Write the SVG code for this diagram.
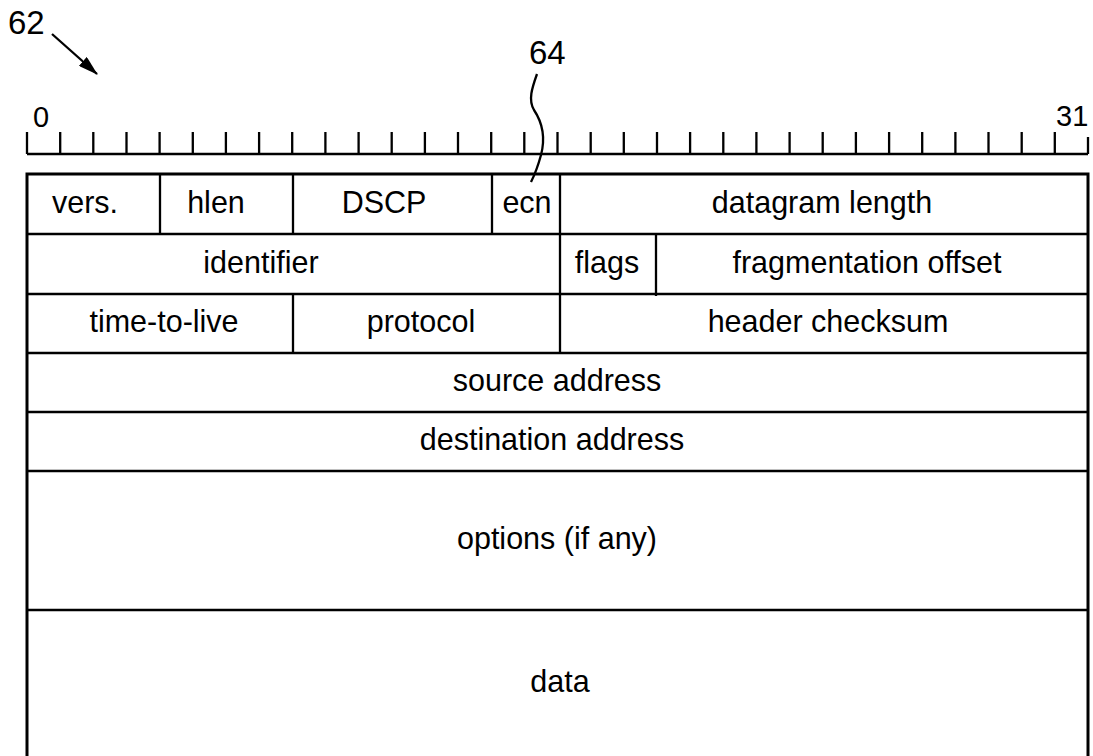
<svg xmlns="http://www.w3.org/2000/svg" width="1093" height="756" viewBox="0 0 1093 756">
  <style>
    .t { font-family: "Liberation Sans", Arial, sans-serif; font-size: 30.5px; fill: #000; text-anchor: middle; }
    .ref { font-family: "Liberation Sans", Arial, sans-serif; font-size: 33px; fill: #000; }
    .num { font-family: "Liberation Sans", Arial, sans-serif; font-size: 29px; fill: #000; }
    .ln { stroke: #000; stroke-width: 2.3; fill: none; }
    .box { stroke: #000; stroke-width: 3; fill: none; }
  </style>
  <defs>
    <marker id="head" viewBox="0 0 20 12" refX="19" refY="6" markerWidth="20" markerHeight="12" orient="auto" markerUnits="userSpaceOnUse">
      <path d="M0,0 L20,6 L0,12 z" fill="#000"/>
    </marker>
  </defs>
  <rect width="1093" height="756" fill="#fff"/>

  <!-- reference numerals -->
  <g id="label-62">
    <text class="ref" x="8" y="34">62</text>
  </g>
  <g id="label-64">
    <text class="ref" x="529" y="64">64</text>
  </g>

  <!-- bit ruler 0..31 -->
  <g id="ruler">
    <line class="ln" x1="27" y1="154" x2="1088" y2="154"/>
    <path class="ln" d="M27,132V154 M60.2,132V154 M93.3,132V154 M126.5,132V154 M159.6,132V154 M192.8,132V154 M225.9,132V154 M259.1,132V154 M292.2,132V154 M325.4,132V154 M358.6,132V154 M391.7,132V154 M424.9,132V154 M458,132V154 M491.2,132V154 M524.3,132V154 M557.5,132V154 M590.7,132V154 M623.8,132V154 M657,132V154 M690.1,132V154 M723.3,132V154 M756.4,132V154 M789.6,132V154 M822.7,132V154 M855.9,132V154 M889.1,132V154 M922.2,132V154 M955.4,132V154 M988.5,132V154 M1021.7,132V154 M1054.8,132V154 M1088,137V154"/>
    <text class="num" x="33" y="127">0</text>
    <text class="num" x="1056" y="126">31</text>
  </g>

  <!-- header table -->
  <g id="table">
    <rect class="box" x="27" y="174" width="1061" height="590"/>
    <path class="ln" d="M27,234H1088 M27,294H1088 M27,353H1088 M27,412H1088 M27,471H1088 M27,610H1088"/>
  </g>

  <g id="row1">
    <path class="ln" d="M160,174V234 M293,174V234 M492,174V234 M560,174V234"/>
    <text class="t" x="85" y="213">vers.</text>
    <text class="t" x="216" y="213">hlen</text>
    <text class="t" x="384" y="213">DSCP</text>
    <text class="t" x="527" y="213">ecn</text>
    <text class="t" x="822" y="213">datagram length</text>
  </g>
  <g id="row2">
    <path class="ln" d="M560,234V294 M656,234V296"/>
    <text class="t" x="261" y="273">identifier</text>
    <text class="t" x="607" y="273">flags</text>
    <text class="t" x="867" y="273">fragmentation offset</text>
  </g>
  <g id="row3">
    <path class="ln" d="M293,294V353 M560,294V353"/>
    <text class="t" x="164" y="332">time-to-live</text>
    <text class="t" x="421" y="332">protocol</text>
    <text class="t" x="828" y="332">header checksum</text>
  </g>
  <g id="row4">
    <text class="t" x="557" y="391">source address</text>
  </g>
  <g id="row5">
    <text class="t" x="552" y="450">destination address</text>
  </g>
  <g id="row6">
    <text class="t" x="557" y="549">options (if any)</text>
  </g>
  <g id="row7">
    <text class="t" x="560" y="692">data</text>
  </g>

  <!-- leaders -->
  <g id="connectors">
    <line class="ln" x1="52" y1="34" x2="97" y2="74" stroke-width="2.5" marker-end="url(#head)"/>
    <path class="ln" d="M537,74 C532,88 528,100 534,110 C542,122 546,136 541,155 C538,166 535,174 531,182"/>
  </g>
</svg>
